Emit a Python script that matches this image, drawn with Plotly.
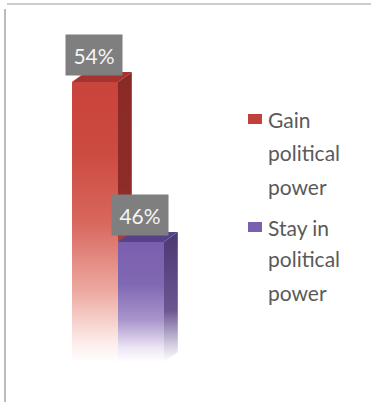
import plotly.graph_objects as go

# ---- data ----
categories = ["Gain political power", "Stay in political power"]
legend_lines = [["Gain", "political", "power"], ["Stay in", "political", "power"]]
values = [54, 46]
labels = ["54%", "46%"]

# ---- style ----
W, H = 371, 402
front_scales = [
    [[0, "#FFFFFF"], [0.08, "#FBE9E6"], [0.25, "#EDAAA2"], [0.5, "#D8675D"], [0.75, "#CC4A40"], [1, "#C9443B"]],
    [[0, "#FFFFFF"], [0.12, "#ECE5F3"], [0.35, "#A995CC"], [0.65, "#8068B2"], [1, "#7A5FAE"]],
]
side_scales = [
    [[0, "#FFFFFF"], [0.08, "#E9D4D4"], [0.3, "#B0534F"], [0.6, "#8E2C29"], [1, "#8A2A27"]],
    [[0, "#FFFFFF"], [0.12, "#D9D2E6"], [0.4, "#6A5690"], [1, "#4B3873"]],
]
top_colors = ["#A5332E", "#56428A"]

base = 40
ymax = 57
half = 0.5
dx, dy = 0.30, 0.5

fig = go.Figure()
for i, v in enumerate(values):
    c = i
    # side face
    fig.add_trace(go.Scatter(
        x=[c + half, c + half + dx, c + half + dx, c + half, c + half],
        y=[base, base + dy, v + dy, v, base],
        fill="toself", mode="lines", line=dict(width=0),
        fillgradient=dict(type="vertical", colorscale=side_scales[i]),
        showlegend=False, hoverinfo="skip"))
    # top face
    fig.add_trace(go.Scatter(
        x=[c - half, c + half, c + half + dx, c - half + dx, c - half],
        y=[v, v, v + dy, v + dy, v],
        fill="toself", mode="lines", line=dict(width=0),
        fillcolor=top_colors[i], showlegend=False, hoverinfo="skip"))
    # front face
    fig.add_trace(go.Scatter(
        x=[c - half, c + half, c + half, c - half, c - half],
        y=[base, base, v, v, base],
        fill="toself", mode="lines", line=dict(width=0),
        fillgradient=dict(type="vertical", colorscale=front_scales[i]),
        name=categories[i], showlegend=False, hoverinfo="skip"))
    # data label
    fig.add_annotation(
        x=c - 0.02, y=v + 0.3, xref="x", yref="y", text=labels[i],
        showarrow=False, yanchor="bottom", xanchor="center",
        width=56, height=40, bgcolor="#7F7F7F", borderpad=0,
        font=dict(family="Lato", size=21, color="#F4F4F4"))

def px(x):
    return x / W

def py(y):
    return 1 - y / H

# legend (manual)
leg_colors = ["#C0413A", "#7A5FAE"]
sq_top = [114, 222]
line_y = [[120, 152, 186], [227, 258, 292]]
for k in range(2):
    fig.add_shape(type="rect", xref="paper", yref="paper",
                  x0=px(248), x1=px(262), y0=py(sq_top[k] + 10), y1=py(sq_top[k]),
                  fillcolor=leg_colors[k], line=dict(width=0))
    for j, t in enumerate(legend_lines[k]):
        fig.add_annotation(x=px(266), y=py(line_y[k][j]), xref="paper", yref="paper",
                           text=t, showarrow=False, xanchor="left", yanchor="middle",
                           font=dict(family="Lato", size=21, color="#5A5A5A"))

# frame lines
fig.add_shape(type="line", xref="paper", yref="paper", x0=px(7), x1=1, y0=py(4), y1=py(4),
              line=dict(color="#CCCCCC", width=2))
fig.add_shape(type="line", xref="paper", yref="paper", x0=px(5), x1=px(5), y0=py(9), y1=0,
              line=dict(color="#BBBBBB", width=2))

fig.update_xaxes(range=[-95 / 46, (W - 95) / 46], domain=[0, 1], visible=False, fixedrange=True)
fig.update_yaxes(range=[base, ymax], domain=[(H - 362) / H, (H - 22) / H], visible=False, fixedrange=True)
fig.update_layout(width=W, height=H, margin=dict(l=0, r=0, t=0, b=0),
                  paper_bgcolor="white", plot_bgcolor="white", showlegend=False)

fig.write_html("out.html")
